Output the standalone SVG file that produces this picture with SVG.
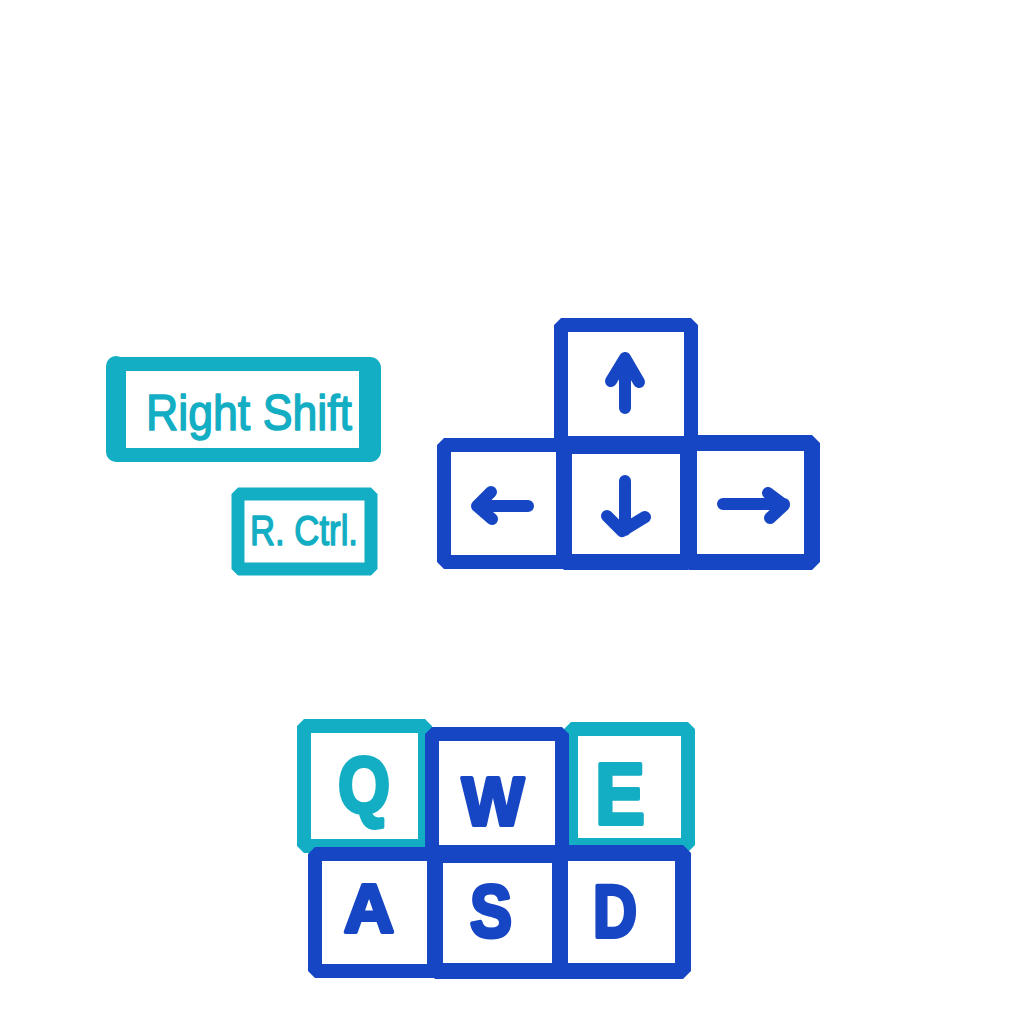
<svg xmlns="http://www.w3.org/2000/svg" width="1024" height="1024" viewBox="0 0 1024 1024">
<style>
.teal{fill:none;stroke:#13AEC3;stroke-linejoin:bevel}
.blue{fill:none;stroke:#1646C3;stroke-linejoin:bevel}
.key{fill:#fff}
.arr{fill:none;stroke:#1646C3;stroke-width:12;stroke-linecap:round;stroke-linejoin:round}
.lbl{font-family:"Liberation Sans",Arial,sans-serif;text-anchor:middle;stroke-linejoin:round}
.hand{font-family:"Liberation Sans",Arial,sans-serif;fill:#13AEC3;stroke:#13AEC3;stroke-width:1.5;stroke-linejoin:round}
.bl{fill:#1646C3;stroke:#1646C3;stroke-width:4;font-weight:bold}
.tl{fill:#13AEC3;stroke:#13AEC3;stroke-width:4;font-weight:bold}
</style>
<rect width="1024" height="1024" fill="#fff"/>

<g id="right-shift">
  <rect class="teal key" x="116" y="364" width="254" height="91" stroke-width="14"/>
  <line class="teal" x1="116" y1="366" x2="116" y2="452" stroke-width="20" stroke-linecap="round"/>
  <line class="teal" x1="370" y1="368" x2="370" y2="451" stroke-width="22" stroke-linecap="round"/>
  <text class="hand" x="146" y="430" font-size="50" textLength="206" lengthAdjust="spacingAndGlyphs">Right Shift</text>
</g>

<g id="r-ctrl">
  <rect class="teal key" x="238" y="494" width="133" height="75" stroke-width="13"/>
  <text class="hand" x="250" y="545" font-size="42" textLength="108" lengthAdjust="spacingAndGlyphs">R. Ctrl.</text>
</g>

<g id="key-up">
  <rect class="blue key" x="561" y="325" width="130" height="118" stroke-width="14"/>
  <path class="arr" d="M625 408 V358 M611 381 L625 358 L639 382"/>
</g>
<g id="key-left">
  <rect class="blue key" x="444" y="445" width="120" height="117" stroke-width="14"/>
  <path class="arr" d="M528 506 H478 M491 492 L477 506 L492 519"/>
</g>
<g id="key-down">
  <rect class="blue key" x="564" y="446" width="124" height="116" stroke-width="16"/>
  <path class="arr" d="M625 481 V530 M607 516 L622 531 L645 517"/>
</g>
<g id="key-right">
  <rect class="blue key" x="689" y="443" width="123" height="119" stroke-width="16"/>
  <path class="arr" d="M723 504 H784 M768 493 L784 505 L770 518"/>
</g>

<g id="key-q">
  <rect class="teal key" x="304" y="726" width="121" height="120" stroke-width="14"/>
  <text class="lbl tl" x="364" y="812" font-size="80" textLength="52" lengthAdjust="spacingAndGlyphs">Q</text>
</g>
<g id="key-e">
  <rect class="teal key" x="571" y="729" width="117" height="116" stroke-width="14"/>
  <text class="lbl tl" x="620" y="824" font-size="88" textLength="50" lengthAdjust="spacingAndGlyphs">E</text>
</g>
<g id="key-w">
  <rect class="blue key" x="432" y="734" width="130" height="118" stroke-width="14"/>
  <text class="lbl bl" x="493" y="825" font-size="68" textLength="62" lengthAdjust="spacingAndGlyphs">W</text>
</g>
<g id="key-a">
  <rect class="blue key" x="315" y="854" width="120" height="117" stroke-width="14"/>
  <text class="lbl bl" x="369" y="932" font-size="68" textLength="50" lengthAdjust="spacingAndGlyphs">A</text>
</g>
<g id="key-s">
  <rect class="blue key" x="435" y="855" width="125" height="116" stroke-width="16"/>
  <text class="lbl bl" x="491" y="937" font-size="74" textLength="42" lengthAdjust="spacingAndGlyphs">S</text>
</g>
<g id="key-d">
  <rect class="blue key" x="560" y="853" width="123" height="118" stroke-width="16"/>
  <text class="lbl bl" x="615" y="937" font-size="74" textLength="44" lengthAdjust="spacingAndGlyphs">D</text>
</g>
<g id="connectors"/>
</svg>
